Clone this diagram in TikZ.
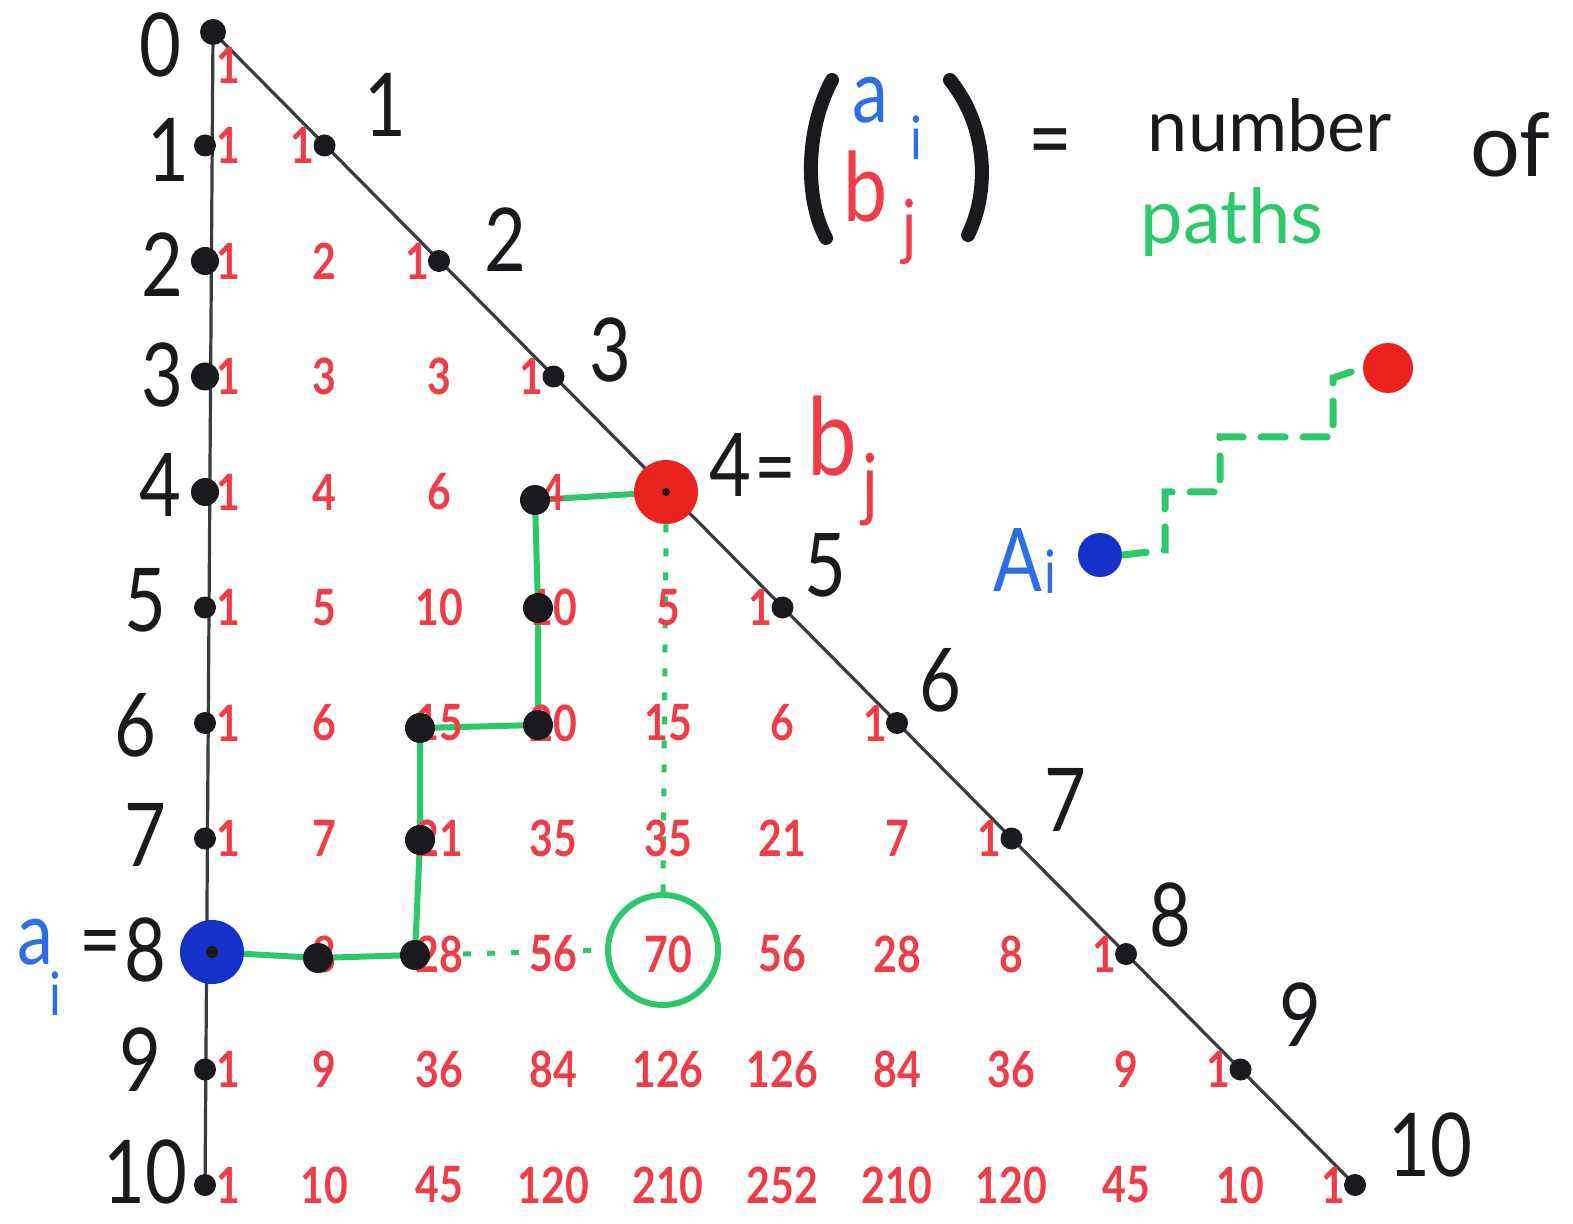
\documentclass[tikz,border=0pt]{standalone}
\usepackage{fontspec}
\setmainfont{Lato}
\newfontfamily\hand[FakeStretch=0.82]{Lato}
\definecolor{ink}{RGB}{25,25,30}
\definecolor{lineink}{RGB}{55,60,65}
\definecolor{pred}{RGB}{240,60,70}
\definecolor{dotred}{RGB}{235,35,30}
\definecolor{pgreen}{RGB}{45,200,105}
\definecolor{pblue}{RGB}{45,110,230}
\definecolor{dotblue}{RGB}{20,50,200}
\pgfdeclarelayer{back}
\pgfdeclarelayer{bg}
\pgfsetlayers{back,bg,main}
\begin{document}
\begin{tikzpicture}[x=0.5pt,y=-0.5pt,
  num/.style={text=pred,font=\hand\bfseries\fontsize{25}{25}\selectfont,inner sep=0pt},
  lab/.style={text=ink,font=\hand\fontsize{44}{44}\selectfont,inner sep=0pt},
  dot/.style={circle,fill=ink,inner sep=0pt,minimum size=11pt},
  bigdot/.style={circle,inner sep=0pt,minimum size=32pt},
  axis/.style={draw=lineink,line width=1.6pt},
  gpath/.style={draw=pgreen,line width=3pt},
  gdot/.style={draw=pgreen,line width=2.5pt,dash pattern=on 4pt off 8pt},
  gdash/.style={draw=pgreen,line width=3.5pt,line cap=round,dash pattern=on 12pt off 9pt}]
\begin{pgfonlayer}{back}
\fill[white] (0,0) rectangle (1573,1224);
\end{pgfonlayer}
\useasboundingbox (0,0) rectangle (1573,1224);

% Pascal numbers
\foreach \n/\row in {0/{1},1/{1,1},2/{1,2,1},3/{1,3,3,1},4/{1,4,6,4,1},
  5/{1,5,10,10,5,1},6/{1,6,15,20,15,6,1},7/{1,7,21,35,35,21,7,1},
  8/{1,8,28,56,70,56,28,8,1},9/{1,9,36,84,126,126,84,36,9,1},
  10/{1,10,45,120,210,252,210,120,45,10,1}}{
  \foreach \v [count=\c] in \row {
    \pgfmathtruncatemacro\k{\c-1}
    \pgfmathsetmacro\xx{\k==0 ? 228 : (\k==\n ? 188+114.5*\n : 210+114.5*\k)}
    \pgfmathsetmacro\yy{\n==0 ? 65 : 30+115.5*\n}
    \node[num] (p-\n-\k) at (\xx,\yy) {\v};
  }
}

% left column dots
\node[dot,minimum size=13pt] (l0) at (213,32) {};
\foreach \n/\s in {1/11,2/14,3/14,4/14,5/11,6/11,7/11,9/11,10/11}
  \node[dot,minimum size=\s pt] (l\n) at (205,{30+115.5*\n}) {};
\node[bigdot,fill=dotblue] (ai) at (212,952) {};
\fill[ink] (ai.center) circle (3pt);

% diagonal dots
\foreach \n in {1,2,3,5,6,7,8,9,10}
  \node[dot] (d\n) at ({210+114.5*\n},{30+115.5*\n}) {};
\node[bigdot,fill=dotred] (bj) at (666,492) {};
\fill[ink] (bj.center) circle (2pt);

% path dots
\node[dot,minimum size=15pt] (q1) at (318,958) {};
\node[dot,minimum size=15pt] (q2) at (415,955) {};
\node[dot,minimum size=15pt] (q3) at (420,840) {};
\node[dot,minimum size=15pt] (q4) at (420,728) {};
\node[dot,minimum size=15pt] (q5) at (538,725) {};
\node[dot,minimum size=15pt] (q6) at (538,608) {};
\node[dot,minimum size=15pt] (q7) at (535,500) {};

% circle around 70
\node[circle,draw=pgreen,line width=3pt,minimum size=55pt,inner sep=0pt] (c70) at (663,950) {};

\begin{pgfonlayer}{bg}
\draw[axis] (l0.center) -- (205,1195);
\draw[axis] (l0.center) -- (d10.center);
\draw[gpath] (ai.center) -- (q1.center) -- (q2.center) -- (q3.center) -- (q4.center)
  -- (q5.center) -- (q6.center) -- (q7.center) -- (bj.center);
\draw[gdot] (bj.south) -- (c70.north);
\draw[gdot] (p-8-2.east) -- (c70.west);
\end{pgfonlayer}

% row labels on the left
\node[lab] (r0) at (160,45) {0};
\node[lab] (r1) at (168,150) {1};
\node[lab] (r2) at (162,265) {2};
\node[lab] (r3) at (162,375) {3};
\node[lab] (r4) at (160,485) {4};
\node[lab] (r5) at (145,600) {5};
\node[lab] (r6) at (135,725) {6};
\node[lab] (r7) at (145,835) {7};
\node[lab] (r8) at (145,950) {8};
\node[lab] (r9) at (140,1060) {9};
\node[lab] (r10) at (145,1172) {10};
\node[lab,text=pblue] (la) at (35,942) {a};
\node[lab,text=pblue,font=\hand\fontsize{30}{30}\selectfont] (lai) at (55,994) {i};
\node[lab] (leq) at (100,950) {=};

% diagonal labels
\node[lab] (e1) at (385,105) {1};
\node[lab] (e2) at (505,240) {2};
\node[lab] (e3) at (610,350) {3};
\node[lab] (e4) at (730,465) {4};
\node[lab] (e4eq) at (775,478) {=};
\node[lab,text=pred,font=\hand\fontsize{54}{54}\selectfont] (eb) at (832,436) {b};
\node[lab,text=pred,font=\hand\fontsize{40}{40}\selectfont] (ej) at (870,490) {j};
\node[lab] (e5) at (825,565) {5};
\node[lab] (e6) at (940,680) {6};
\node[lab] (e7) at (1065,800) {7};
\node[lab] (e8) at (1170,915) {8};
\node[lab] (e9) at (1300,1015) {9};
\node[lab] (e10) at (1430,1145) {10};

% binomial definition
\draw[ink,line width=7pt,line cap=round] (832,80) .. controls (805,130) and (805,200) .. (826,238);
\draw[ink,line width=7pt,line cap=round] (950,80) .. controls (990,130) and (988,195) .. (968,235);
\node[lab,text=pblue,font=\hand\fontsize{44}{44}\selectfont] (ta) at (870,100) {a};
\node[lab,text=pblue,font=\hand\fontsize{30}{30}\selectfont] (ti) at (916,138) {i};
\node[lab,text=pred,font=\hand\fontsize{48}{48}\selectfont] (tb) at (866,186) {b};
\node[lab,text=pred,font=\hand\fontsize{36}{36}\selectfont] (tj) at (910,232) {j};
\node[lab,font=\hand\fontsize{46}{46}\selectfont] (teq) at (1050,150) {=};
\node[lab,font=\fontsize{36}{36}\selectfont] (tnum) at (1270,125) {number};
\node[lab,font=\fontsize{44}{44}\selectfont] (tof) at (1510,145) {of};
\node[lab,text=pgreen,font=\fontsize{38}{38}\selectfont] (tpaths) at (1232,222) {paths};

% small example
\node[lab,text=pblue,font=\hand\fontsize{44}{44}\selectfont] (sA) at (1018,560) {A};
\node[lab,text=pblue,font=\hand\fontsize{30}{30}\selectfont] (sAi) at (1050,572) {i};
\node[circle,fill=dotblue,inner sep=0pt,minimum size=22pt] (sa) at (1100,555) {};
\node[circle,fill=dotred,inner sep=0pt,minimum size=25pt] (sb) at (1388,368) {};
\begin{pgfonlayer}{bg}
\draw[gdash] (sa.east) -- (1165,550) -- (1165,492) -- (1220,492) -- (1220,437)
  -- (1333,437) -- (1333,378) -- (sb.west);
\end{pgfonlayer}
\end{tikzpicture}
\end{document}
